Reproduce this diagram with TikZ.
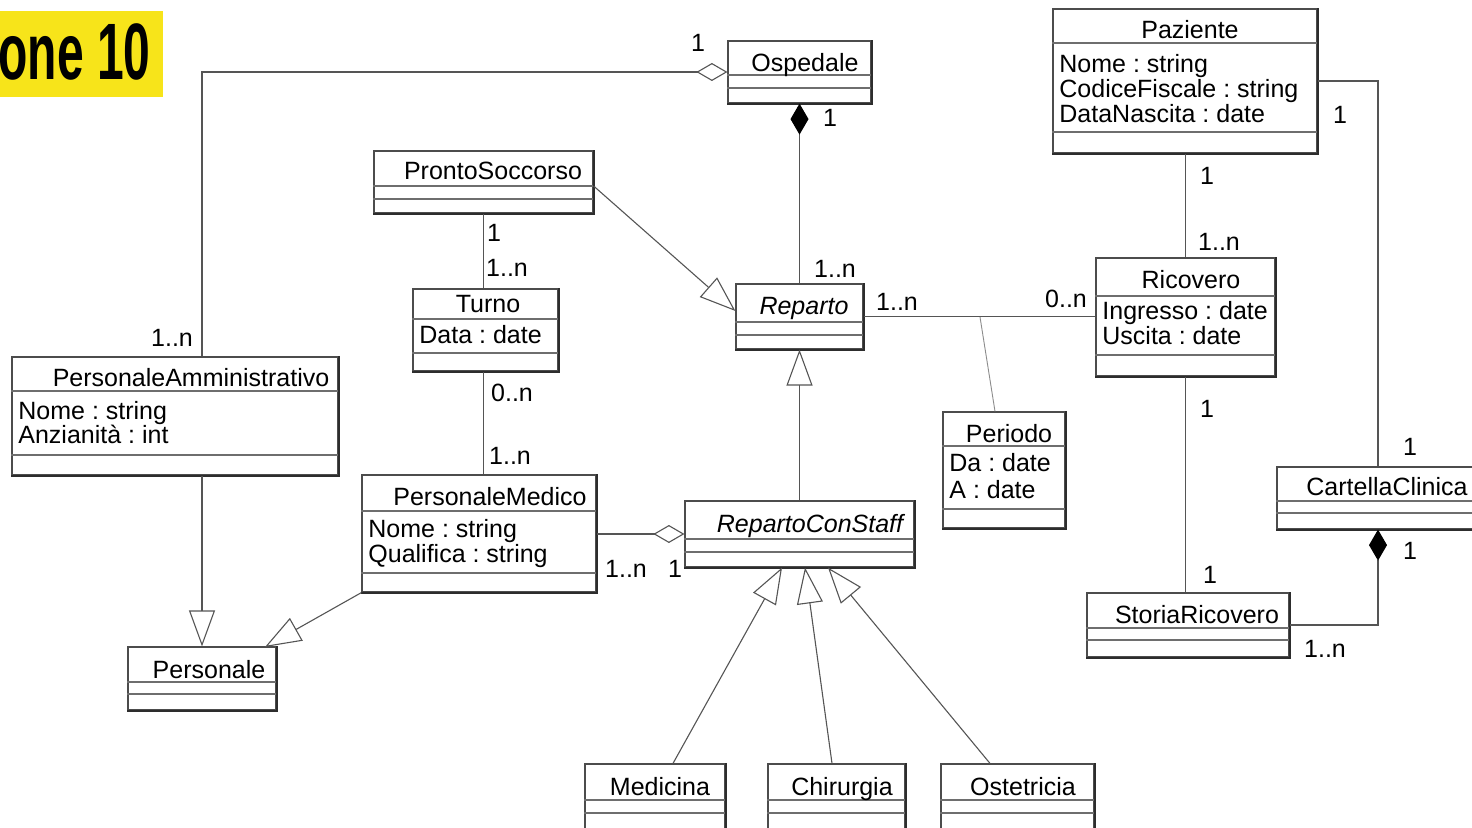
\documentclass[tikz,border=0pt]{standalone}
\usepackage{fontspec}
\usepackage{graphicx}
\setmainfont{Liberation Sans}
\usetikzlibrary{arrows.meta,calc,fit}
\frenchspacing

\definecolor{tagyellow}{RGB}{247,228,26}
\definecolor{boxline}{RGB}{45,45,45}
\definecolor{divline}{RGB}{110,110,110}
\definecolor{wire}{RGB}{85,85,85}

\tikzset{
  every node/.style={font=\fontsize{12.5}{15}\selectfont, inner sep=0pt},
  classbox/.style={draw=boxline!85, line width=0.6pt, fill=white},
  divider/.style={draw=divline, line width=0.55pt},
  lab/.style={anchor=base},
  attr/.style={anchor=base west},
  plainlink/.style={draw=wire, line width=0.55pt},
  assoclink/.style={draw=black!45, line width=0.45pt},
  genlink/.style={plainlink, -{Triangle[open, length=18pt, width=13pt]}},
  aggrlink/.style={plainlink, {Diamond[open, length=15.5pt, width=9pt]}-},
  complink/.style={plainlink, {Diamond[length=15.5pt, width=9pt, fill=black, color=black]}-},
}

% class box with two compartment dividers
\newcommand{\umlbox}[7]{%
  \node[classbox, fit={(#2,#3) (#4,#5)}] (#1) {};
  \draw[divider] (#1.west |- 0,#6) -- (#1.east |- 0,#6);
  \draw[divider] (#1.west |- 0,#7) -- (#1.east |- 0,#7);
  \draw[draw=boxline, line width=0.95pt] (#1.south west) -- (#1.south east) -- (#1.north east);
}

\begin{document}
\begin{tikzpicture}[x=0.5pt, y=-0.5pt]
\clip (0,0) rectangle (1472,828);
\fill[white] (0,0) rectangle (1472,828);

% slide tag
\fill[tagyellow] (0,11) rectangle (163,97);
\node[anchor=base west] (tag) at (-2,80) {\fontsize{40}{40}\selectfont\scalebox{0.6}[1]{\bfseries one 10}};

% classes
\umlbox{osp}{728}{41}{871}{103}{75}{88}
\umlbox{paz}{1053}{9}{1317}{153}{43}{132}
\umlbox{ps}{374}{151}{593}{213}{186}{199}
\umlbox{turno}{413}{289}{558}{371}{319}{353}
\umlbox{rep}{736}{284}{863}{349}{322}{335}
\umlbox{ric}{1096}{258}{1275}{376}{296}{355}
\umlbox{pa}{12}{357}{338}{475}{391}{455}
\umlbox{per}{943}{412}{1065}{528}{446}{509}
\umlbox{cc}{1277}{467}{1479}{529}{501}{513}
\umlbox{pm}{362}{475}{596}{592}{511}{573}
\umlbox{rcs}{685}{501}{914}{567}{539}{552}
\umlbox{sr}{1087}{593}{1289}{657}{628}{640}
\umlbox{pers}{128}{647}{276}{710}{682}{694}
\umlbox{med}{585}{764}{725}{834}{800}{813}
\umlbox{chi}{768}{764}{905}{834}{800}{813}
\umlbox{ost}{941}{764}{1094}{834}{800}{813}

% class names
\node[lab] (nOsp) at (805,72) {Ospedale};
\node[lab] (nPaz) at (1190,39) {Paziente};
\node[lab] (nPs) at (493,180) {ProntoSoccorso};
\node[lab] (nTurno) at (488,313) {Turno};
\node[lab] (nRep) at (804,315) {\itshape Reparto};
\node[lab] (nRic) at (1191,289) {Ricovero};
\node[lab] (nPa) at (191,387) {PersonaleAmministrativo};
\node[lab] (nPer) at (1009,443) {Periodo};
\node[lab] (nCc) at (1387,495) {CartellaClinica};
\node[lab] (nPm) at (490,505) {PersonaleMedico};
\node[lab] (nRcs) at (810,532) {\itshape RepartoConStaff};
\node[lab] (nSr) at (1197,623) {StoriaRicovero};
\node[lab] (nPers) at (209,678) {Personale};
\node[lab] (nMed) at (660,795) {Medicina};
\node[lab] (nChi) at (842,795) {Chirurgia};
\node[lab] (nOst) at (1023,795) {Ostetricia};

% attributes
\node[attr] (aPaz1) at (1059,73) {Nome : string};
\node[attr] (aPaz2) at (1059,98) {CodiceFiscale : string};
\node[attr] (aPaz3) at (1059,123) {DataNascita : date};
\node[attr] (aTurno) at (419,344) {Data : date};
\node[attr] (aRic1) at (1102,320) {Ingresso : date};
\node[attr] (aRic2) at (1102,345) {Uscita : date};
\node[attr] (aPa1) at (18,420) {Nome : string};
\node[attr] (aPa2) at (18,444) {Anzianità : int};
\node[attr] (aPer1) at (949,472) {Da : date};
\node[attr] (aPer2) at (949,498) {A : date};
\node[attr] (aPm1) at (368,537) {Nome : string};
\node[attr] (aPm2) at (368,562) {Qualifica : string};

% connectors
\draw[aggrlink] (osp.west) -- (osp.west -| pers.north) -- (pers.north |- pa.north);
\draw[complink] (osp.south) -- (rep.north);
\draw[genlink] (rcs.north) -- (rep.south);
\draw[genlink] (pers.north |- pa.south) -- (pers.north);
\coordinate (persTip) at (265,647);
\draw[genlink] (pm.south west) -- (persTip);
\draw[genlink] (ps.east |- 0,186) -- (rep.west |- 0,311);
\draw[plainlink] (ps.south) -- (ps.south |- turno.north);
\draw[plainlink] (ps.south |- turno.south) -- (ps.south |- pm.north);
\draw[aggrlink] (rcs.west) -- (rcs.west -| pm.east);
\draw[genlink] (med.north -| 673,0) -- (rcs.south -| 782,0);
\draw[genlink] (chi.north -| 832,0) -- (rcs.south -| 805,0);
\draw[genlink] (ost.north -| 990,0) -- (rcs.south -| 828,0);
\draw[plainlink] (rep.east) -- (rep.east -| ric.west);
\coordinate (acFoot) at (980,317);
\draw[assoclink] (acFoot) -- (per.north -| 995,0);
\draw[plainlink] (paz.south -| ric.north) -- (ric.north);
\draw[plainlink] (ric.south) -- (ric.south |- sr.north);
\draw[plainlink] (paz.east) -- (paz.east -| cc.north) -- (cc.north);
\draw[complink] (cc.south) -- (cc.south |- sr.east) -- (sr.east);

% multiplicities
\node[lab] (m1) at (698,52) {1};
\node[lab] (m2) at (830,127) {1};
\node[lab] (m3) at (835,278) {1..n};
\node[lab] (m4) at (494,242) {1};
\node[lab] (m5) at (507,277) {1..n};
\node[lab] (m6) at (172,347) {1..n};
\node[lab] (m7) at (512,401) {0..n};
\node[lab] (m8) at (510,465) {1..n};
\node[lab] (m9) at (897,311) {1..n};
\node[lab] (m10) at (1066,308) {0..n};
\node[lab] (m11) at (1207,185) {1};
\node[lab] (m12) at (1219,251) {1..n};
\node[lab] (m13) at (1340,124) {1};
\node[lab] (m14) at (1207,418) {1};
\node[lab] (m15) at (1410,455) {1};
\node[lab] (m16) at (1410,559) {1};
\node[lab] (m17) at (1210,583) {1};
\node[lab] (m18) at (1325,657) {1..n};
\node[lab] (m19) at (626,577) {1..n};
\node[lab] (m20) at (675,577) {1};
\end{tikzpicture}
\end{document}
